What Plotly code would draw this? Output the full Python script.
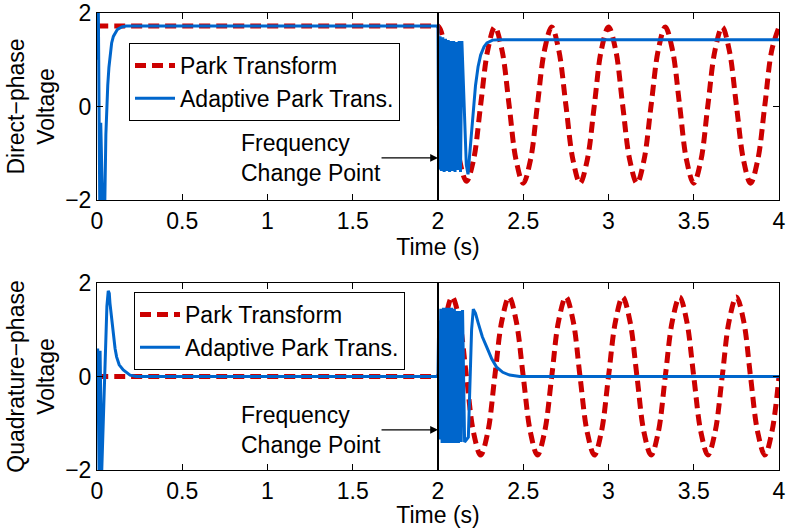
import plotly.graph_objects as go

# ---------------- data ----------------
red_t = [0.000, 1.958, 2.000, 2.042, 2.083, 2.125, 2.167, 2.208, 2.250, 2.292, 2.333,
         2.375, 2.417, 2.458, 2.500, 2.542, 2.583, 2.625, 2.667,
         2.708, 2.750, 2.792, 2.833, 2.875, 2.917, 2.958, 3.000,
         3.042, 3.083, 3.125, 3.167, 3.208, 3.250, 3.292, 3.333,
         3.375, 3.417, 3.458, 3.500, 3.542, 3.583, 3.625, 3.667,
         3.708, 3.750, 3.792, 3.833, 3.875, 3.917, 3.958, 4.000]

park_d = [1.72, 1.72, 1.72, 1.22, 0.03, -1.12, -1.60, -1.15, 0.03, 1.21, 1.70,
          1.21, 0.03, -1.15, -1.64, -1.15, 0.03, 1.21, 1.70,
          1.21, 0.03, -1.15, -1.64, -1.15, 0.03, 1.21, 1.70,
          1.21, 0.03, -1.15, -1.64, -1.15, 0.03, 1.21, 1.70,
          1.21, 0.03, -1.15, -1.64, -1.15, 0.03, 1.21, 1.70,
          1.21, 0.03, -1.15, -1.64, -1.15, 0.03, 1.21, 1.70]

park_q = [0.00, 0.00, 0.00, 1.20, 1.70, 1.20, 0.00, -1.19, -1.68, -1.19, 0.00,
          1.20, 1.70, 1.20, 0.00, -1.19, -1.68, -1.19, 0.00,
          1.20, 1.70, 1.20, 0.00, -1.19, -1.68, -1.19, 0.00,
          1.20, 1.70, 1.20, 0.00, -1.19, -1.68, -1.19, 0.00,
          1.20, 1.70, 1.20, 0.00, -1.19, -1.68, -1.19, 0.00,
          1.20, 1.70, 1.20, 0.00, -1.19, -1.68, -1.19, 0.00]

apt_d_t = [0.000, 0.008, 0.016, 0.022, 0.032, 0.046, 0.052, 0.057, 0.063, 0.070,
           0.078, 0.086, 0.096, 0.106, 0.120, 0.145, 0.170, 2.000,
           2.004, 2.012, 2.020, 2.028, 2.036, 2.044, 2.052, 2.060, 2.068, 2.076,
           2.084, 2.092, 2.100, 2.108, 2.116, 2.124, 2.132, 2.140, 2.166, 2.176,
           2.190, 2.205, 2.220, 2.235, 2.250, 2.270, 2.287, 2.320, 2.364, 4.000]
apt_d = [1.00, 2.00, -2.00, -0.35, -2.00, -2.00, -0.60, 0.00, 0.45, 0.84,
         1.15, 1.36, 1.50, 1.57, 1.65, 1.70, 1.72, 1.72,
         -1.35, 1.50, -1.38, 1.48, -1.40, 1.45, -1.38, 1.42, -1.40, 1.40,
         -1.38, 1.40, -1.40, 1.38, -1.36, 1.40, -1.40, 1.40, -1.25, -1.45,
         -0.75, -0.20, 0.45, 0.85, 1.10, 1.28, 1.36, 1.42, 1.43, 1.43]

apt_q_t = [0.000, 0.004, 0.012, 0.018, 0.028, 0.040, 0.050, 0.058, 0.066, 0.072,
           0.076, 0.086, 0.096, 0.106, 0.115, 0.130, 0.154, 0.194, 0.230, 2.000,
           2.004, 2.010, 2.016, 2.024, 2.032, 2.040, 2.048, 2.056, 2.064, 2.072,
           2.080, 2.088, 2.096, 2.104, 2.112, 2.120, 2.128, 2.136, 2.144, 2.156,
           2.178, 2.188, 2.197, 2.207, 2.220, 2.236, 2.260, 2.286, 2.315, 2.344,
           2.380, 2.420, 2.480, 4.000]
apt_q = [0.00, 0.60, -2.00, 0.55, -2.00, -0.70, 0.60, 1.50, 1.83, 1.78,
         1.57, 1.20, 0.85, 0.60, 0.42, 0.25, 0.14, 0.03, 0.00, 0.00,
         1.20, -1.35, 1.45, -1.42, 1.47, -1.42, 1.47, -1.42, 1.47, -1.42,
         1.47, -1.42, 1.45, -1.42, 1.40, -1.42, 1.40, -1.40, 1.42, -1.40,
         -1.30, -0.10, 1.00, 1.44, 1.35, 1.14, 0.85, 0.63, 0.38, 0.20,
         0.09, 0.03, 0.00, 0.00]

x_ticks = [0, 0.5, 1, 1.5, 2, 2.5, 3, 3.5, 4]
y_ticks = [-2, 0, 2]
change_t = 2.0
arrow_tail_t = 1.66
text_t = 0.83
arrow_v_d = -1.10
arrow_v_q = -1.14

# ---------------- styles ----------------
RED = "rgb(204,0,0)"
BLUE = "rgb(0,102,204)"
FONT = "Liberation Sans, Arial, sans-serif"
FS = 23

fig = go.Figure()

fig.add_trace(go.Scatter(x=red_t, y=park_d, mode="lines", name="Park Transform",
                         line=dict(color=RED, width=5, dash="11px,6px", shape="spline"),
                         xaxis="x", yaxis="y", legend="legend"))
fig.add_trace(go.Scatter(x=apt_d_t, y=apt_d, mode="lines", name="Adaptive Park Trans.",
                         line=dict(color=BLUE, width=3),
                         xaxis="x", yaxis="y", legend="legend"))
fig.add_trace(go.Scatter(x=red_t, y=park_q, mode="lines", name="Park Transform",
                         line=dict(color=RED, width=5, dash="11px,6px", shape="spline"),
                         xaxis="x2", yaxis="y2", legend="legend2"))
fig.add_trace(go.Scatter(x=apt_q_t, y=apt_q, mode="lines", name="Adaptive Park Trans.",
                         line=dict(color=BLUE, width=3),
                         xaxis="x2", yaxis="y2", legend="legend2"))

xdom = [97 / 787, 779 / 787]
axis_common = dict(showline=True, linecolor="black", linewidth=1, mirror="ticks",
                   ticks="inside", ticklen=6, tickcolor="black", showgrid=False,
                   zeroline=False, automargin=False,
                   tickfont=dict(size=FS, color="black", family=FONT))

xa = dict(axis_common, range=[0, 4], tickvals=x_ticks, domain=xdom,
          title=dict(text="Time (s)", font=dict(size=FS, color="black", family=FONT), standoff=0))
ya_title_font = dict(size=FS, color="black", family=FONT)
fig.update_layout(
    xaxis=dict(xa, anchor="y"),
    xaxis2=dict(xa, anchor="y2"),
    yaxis=dict(axis_common, range=[-2, 2], tickvals=y_ticks, domain=[1 - 200 / 528, 1 - 13 / 528],
               anchor="x",
               title=dict(text="Direct\u2212phase<br>Voltage", font=ya_title_font, standoff=4)),
    yaxis2=dict(axis_common, range=[-2, 2], tickvals=y_ticks, domain=[1 - 470 / 528, 1 - 283 / 528],
                anchor="x2",
                title=dict(text="Quadrature\u2212phase<br>Voltage", font=ya_title_font, standoff=4)),
    legend=dict(x=129 / 787, y=1 - 43 / 528, xanchor="left", yanchor="top",
                bgcolor="white", bordercolor="black", borderwidth=1,
                font=dict(size=FS, color="black", family=FONT), itemwidth=40),
    legend2=dict(x=134 / 787, y=1 - 292 / 528, xanchor="left", yanchor="top",
                 bgcolor="white", bordercolor="black", borderwidth=1,
                 font=dict(size=FS, color="black", family=FONT), itemwidth=40),
    width=787, height=528,
    margin=dict(l=0, r=0, t=0, b=0, autoexpand=False),
    paper_bgcolor="white", plot_bgcolor="white",
    font=dict(family=FONT, color="black"),
)

for xr, yr, v in [("x", "y", arrow_v_d), ("x2", "y2", arrow_v_q)]:
    fig.add_shape(type="line", xref=xr, yref=yr, x0=change_t, x1=change_t, y0=-2, y1=2,
                  line=dict(color="black", width=2), layer="above")
    fig.add_annotation(xref=xr, yref=yr, x=change_t, y=v, axref=xr, ayref=yr,
                       ax=arrow_tail_t, ay=v, text="", showarrow=True,
                       arrowhead=2, arrowsize=1.3, arrowwidth=1.2, arrowcolor="black", standoff=0)
    fig.add_annotation(xref=xr, yref=yr, x=text_t, y=v, text="Frequency<br>Change Point",
                       showarrow=False, xanchor="left", yanchor="middle", align="left",
                       font=dict(size=FS, color="black", family=FONT))

fig.write_html("out.html", config={"displayModeBar": False},
               post_script="document.body.style.margin='0';document.body.style.overflow='hidden';")
